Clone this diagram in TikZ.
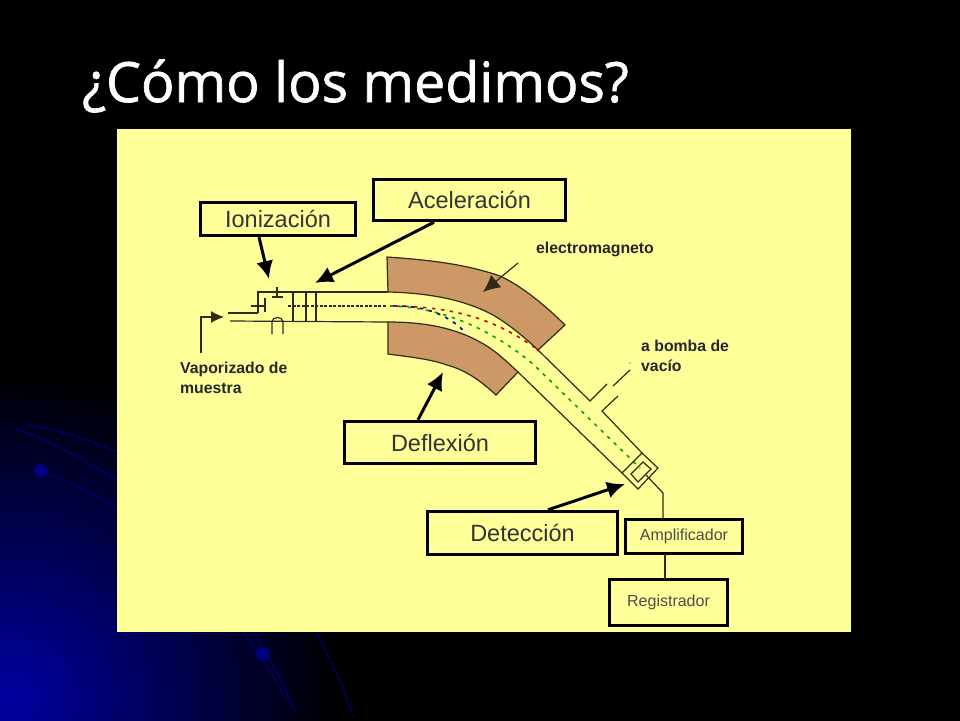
\documentclass[tikz,border=0pt]{standalone}
\usepackage{fontspec}
\setmainfont{Liberation Sans}
\newfontfamily\titlefont[FakeBold=1.2]{Open Sans}
\usetikzlibrary{arrows.meta}
\definecolor{panel}{RGB}{255,255,153}
\definecolor{magnet}{RGB}{204,153,102}
\definecolor{wire}{RGB}{50,42,25}
\definecolor{deco}{RGB}{0,0,110}
\begin{document}
\begin{tikzpicture}
[x=1pt, y=-1pt,
 box/.style ={rectangle, draw=black, line width=3.4pt, fill=panel, inner sep=0pt, align=center, font=\fontsize{23.5}{26}\selectfont, text=black!80},
 smallbox/.style ={box, font=\fontsize{16}{18}\selectfont, text=black!70},
 note/.style ={align=left, anchor=north west, inner sep=0pt, font=\bfseries\fontsize{15.8}{19.8}\selectfont, text=black!85},
 line/.style ={draw=black, line width=3pt, -{Latex[length=18pt,width=17pt]}},
 thinline/.style ={draw=wire, line width=1.2pt},
 pole/.style ={draw=wire, line width=1.2pt, fill=magnet},
 beam/.style ={line width=1.6pt, dash pattern=on 3.5pt off 5.5pt},
 decoline/.style ={draw=deco, line width=1.2pt},
 ball/.style ={circle, fill=deco!90!blue, inner sep=0pt, minimum size=14pt}]
% slide background
\useasboundingbox (0,0) rectangle (960,720);
\fill[black] (-5,-5) rectangle (965,725);
\begin{scope}
\clip (-5,-5) rectangle (965,725);
\shade[inner color={rgb,255:red,0;green,0;blue,160}, outer color=black] (10,700) circle (330);
\draw[decoline] (41,472) .. controls (70,482) and (95,495) .. (117,508);
\draw[decoline] (13,428) .. controls (50,440) and (85,460) .. (117,481);
\draw[decoline] (27,425) .. controls (60,430) and (90,440) .. (117,452);
\draw[decoline] (243,632) .. controls (260,655) and (275,680) .. (287,700);
\draw[decoline] (253,632) .. controls (268,655) and (285,685) .. (295,712);
\draw[decoline] (317,632) .. controls (330,660) and (345,690) .. (353,717);
\end{scope}
\node[ball] (ball1) at (41,471) {};
\node[ball] (ball2) at (263,654) {};
% title and panel
\node[anchor=base west, inner sep=0pt, text=white, font=\titlefont\fontsize{55.5}{60}\selectfont] (title) at (82,102) {¿Cómo los medimos?};
\fill[panel] (117,129) rectangle (851,632);
% magnet poles
\draw[pole] (387,257) .. controls (430,260) and (465,264) .. (500,276) .. controls (520,285) and (545,305) .. (565,325) -- (538,350) .. controls (520,333) and (505,322) .. (493,315) .. controls (465,300) and (430,293) .. (388,292) -- cycle;
\draw[pole] (388,322) .. controls (425,322) and (455,328) .. (480,342) .. controls (495,350) and (505,360) .. (518,372) -- (496,395) .. controls (480,380) and (465,370) .. (447,365) .. controls (430,359) and (410,357) .. (388,354) -- cycle;
% tube
\draw[thinline] (258,313) -- (258,292) -- (388,292);
\draw[thinline] (538,350) -- (590,401) -- (607,384);
\draw[thinline] (613,386) -- (630,370);
\fill[wire] (630,363) circle (0.6);
\draw[thinline] (618,396) -- (602,411) -- (642,453);
\draw[thinline] (230,321) -- (388,322);
\draw[thinline] (518,372) -- (622,473);
% source
\draw[thinline] (251,306) -- (265,306);
\draw[thinline] (265,298) -- (265,312);
\draw[thinline] (228,313) -- (258,313);
\draw[thinline] (272,297) -- (283,297);
\draw[thinline] (277,287) -- (277,297);
\draw[thinline] (272,334) -- (272,322) .. controls (272,316) and (283,316) .. (283,322) -- (283,334);
\draw[thinline] (293,292) -- (293,321);
\draw[thinline] (306,292) -- (306,321);
\draw[thinline] (316,292) -- (316,321);
\draw[thinline, dash pattern=on 3pt off 1.5pt] (288,306) -- (387,306);
% beams
\draw[beam, green!65!black] (390,306) .. controls (440,307) and (490,328) .. (533,364) -- (640,468);
\draw[beam, red!85!black, dash phase=3pt] (390,306) .. controls (450,306) and (495,318) .. (538,350);
\draw[beam, blue!70!black, dash phase=6pt] (390,306) .. controls (420,305) and (445,312) .. (465,332);
\fill[red!70!black] (538,350) circle (1.6);
% detector
\draw[thinline] (642,453) -- (658,468) -- (638,489) -- (622,473) -- cycle;
\draw[thinline] (643,462) -- (651,469) -- (638,482) -- (631,474) -- cycle;
\draw[thinline] (646,475) -- (663,493) -- (663,519);
% inlet
\draw[thinline, -{Latex[length=13pt,width=12pt]}] (201,353) -- (201,317) -- (224,317);
% labelled boxes
\draw (469.5,200) node[box, minimum width=192pt, minimum height=41pt] (acel) {Aceleración};
\draw (278,219) node[box, minimum width=155pt, minimum height=33pt] (ioni) {Ionización};
\draw (440,442.5) node[box, minimum width=191pt, minimum height=42pt] (defl) {Deflexión};
\draw (522.5,533) node[box, minimum width=190pt, minimum height=43pt] (dete) {Detección};
\draw (684,536.5) node[smallbox, minimum width=117pt, minimum height=34pt] (ampl) {Amplificador};
\draw (668.5,602.5) node[smallbox, minimum width=118pt, minimum height=46pt] (regi) {Registrador};
\draw[thinline] (665,554) -- (665,579);
% notes
\draw (180,362) node[note] (vapo) {Vaporizado de\\muestra};
\draw (536,242) node[note] (elec) {electromagneto};
\draw (641,340) node[note] (bomb) {a bomba de\\vacío};
% arrows
\coordinate (ioniend) at (269,279);
\coordinate (acelend) at (315,283);
\coordinate (deflend) at (443,372);
\coordinate (deteend) at (625,484);
\coordinate (elecstart) at (518,263);
\coordinate (elecend) at (483,292);
\draw[line] (ioni.south -| 259,0) -- (ioniend);
\draw[line] (acel.south -| 434,0) -- (acelend);
\draw[line] (defl.north -| 418,0) -- (deflend);
\draw[line] (dete.north -| 548,0) -- (deteend);
\draw[thinline, -{Latex[length=17pt,width=16pt]}] (elecstart) -- (elecend);
\end{tikzpicture}
\end{document}
